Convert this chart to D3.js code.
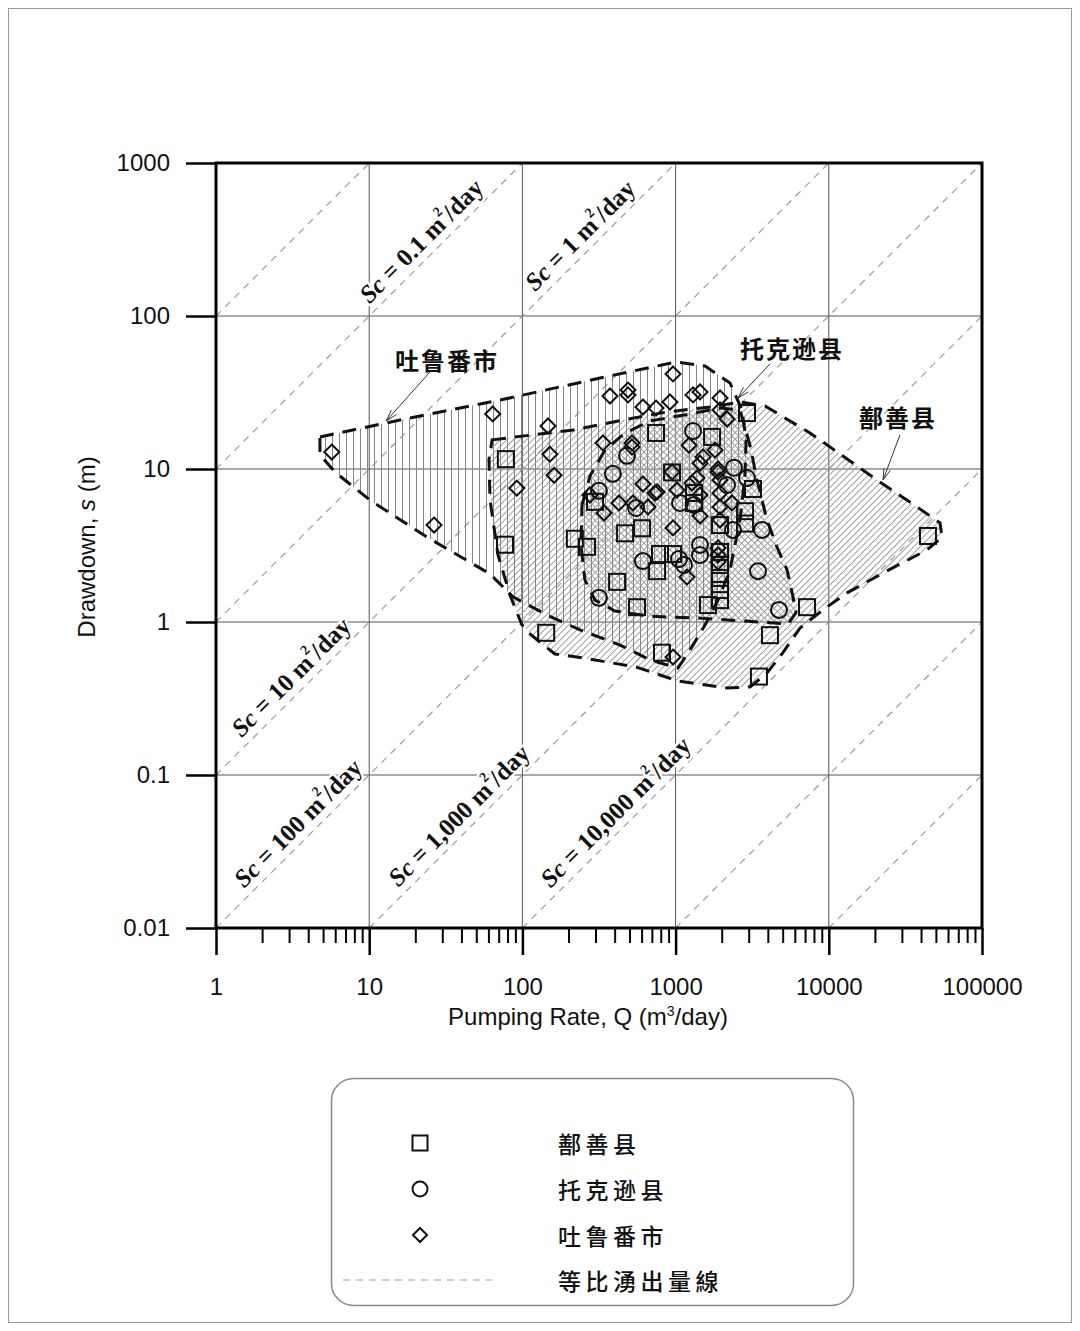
<!DOCTYPE html>
<html>
<head>
<meta charset="utf-8">
<script src="https://cdn.jsdelivr.net/npm/d3@7"></script>
<style>
  html, body { margin: 0; padding: 0; background: #fff; }
  svg { display: block; }
</style>
</head>
<body>
<svg id="chart" width="1080" height="1331"></svg>
<script>
// ---- Well test data: pumping rate Q (m3/day), drawdown s (m) ----
const shanshanWells = [
  [78, 11.6], [77, 3.2], [220, 3.5], [264, 3.1], [298, 6.1], [468, 3.8], [604, 4.1],
  [415, 1.83], [560, 1.25], [143, 0.85], [745, 17.2], [948, 9.5], [1730, 16.2],
  [2925, 23.2], [3200, 7.4], [2840, 5.3], [2840, 4.4], [1950, 4.3], [791, 2.78],
  [962, 2.78], [757, 2.15], [1627, 1.29], [1950, 2.87], [1950, 2.36], [1950, 1.94],
  [1950, 1.62], [1950, 1.39], [815, 0.63], [4130, 0.82], [3500, 0.44], [7210, 1.25],
  [44400, 3.65], [1318, 6.97], [1318, 6.0]
];
const tuokexunWells = [
  [1300, 17.7], [482, 12.2], [390, 9.3], [316, 7.2], [552, 5.56], [1069, 6.0],
  [1318, 5.82], [2405, 10.2], [2925, 8.73], [2167, 7.86], [2370, 4.0], [3664, 4.0],
  [1443, 3.19], [1443, 2.74], [612, 2.5], [1052, 2.58], [1135, 2.36], [3451, 2.15],
  [316, 1.44], [4730, 1.2]
];
const turpanWells = [
  [5.7, 12.9], [26.5, 4.3], [64, 22.9], [147, 19.1], [151, 12.5], [161, 9.1], [92, 7.5],
  [373, 30], [489, 32.8], [489, 30.5], [962, 41.8], [919, 27.4], [612, 25.4], [745, 25.0],
  [1300, 30.5], [1443, 31.9], [1950, 29.1], [1950, 24.3], [2167, 21.2], [336, 14.8],
  [519, 14.8], [519, 13.9], [1223, 14.3], [1510, 12.0], [1808, 13.3], [1892, 10.0],
  [1892, 9.55], [1443, 10.9], [1380, 8.73], [1280, 8.1], [1950, 8.47], [948, 9.55],
  [757, 7.07], [1021, 7.29], [1950, 6.97], [1443, 6.76], [612, 7.98], [734, 6.97],
  [427, 6.0], [341, 5.16], [527, 6.0], [661, 5.65], [962, 4.12], [1187, 1.97],
  [962, 0.59], [1443, 4.93], [1950, 5.65], [1950, 4.64], [2334, 6.0], [1892, 3.05],
  [1892, 2.74], [1892, 2.47], [276, 6.76]
];

// ---- Envelopes of each county's data cloud (Q, s) ----
const turpanEnvelope = [
  [4.77, 16.2], [15.9, 20.9], [71.4, 28.2], [321, 39.3], [1006, 50.1], [1556, 47.1],
  [2265, 36.5], [2712, 24.3], [2884, 15.5], [2838, 9.14], [2633, 4.64], [2265, 2.19],
  [1892, 1.39], [1556, 0.956], [1242, 0.656], [1037, 0.5], [681, 0.565], [434, 0.707],
  [238, 0.887], [145, 1.11], [86.8, 1.46], [61.5, 2.06], [23.8, 3.59], [10.1, 6.27],
  [5.98, 9.55], [4.77, 12.4]
];
const shanshanEnvelope = [
  [63.4, 15.5], [214, 18.0], [454, 20.9], [879, 23.6], [1678, 25.4], [2633, 27.4],
  [3834, 25.8], [7540, 17.2], [20650, 8.47], [37650, 5.65], [53200, 4.44], [54800, 3.59],
  [43750, 2.96], [22600, 2.09], [13150, 1.55], [9160, 1.2], [6490, 0.914], [5020, 0.63],
  [3950, 0.464], [3060, 0.376], [2167, 0.37], [1037, 0.411], [552, 0.508], [249, 0.582],
  [163, 0.618], [114, 0.822], [99.4, 0.956], [83, 1.5], [69.3, 2.74], [61.5, 6.27],
  [60.5, 11.5]
];
const tuokexunEnvelope = [
  [245, 5.82], [276, 9.0], [346, 13.3], [468, 17.2], [681, 20.6], [1242, 22.9],
  [1950, 25.0], [2633, 24.3], [3060, 14.3], [3400, 8.47], [3950, 4.64], [4590, 3.09],
  [5340, 2.19], [5840, 1.46], [6110, 1.15], [5420, 0.97], [2838, 1.015], [1443, 1.06],
  [681, 1.09], [402, 1.18], [298, 1.39], [256, 1.88], [241, 3.19]
];

// ---- Lines of equal specific capacity Sc = Q / s (m2/day) ----
const scLineValues = [0.01, 0.1, 1, 10, 100, 1000, 10000, 100000, 1000000];
const scLabelValues = [0.1, 1, 10, 100, 1000, 10000];
const scLabelTexts = ["0.1", "1", "10", "100", "1,000", "10,000"];
const scLabelAnchorQ = [26, 283, 3.67, 4.08, 45.8, 482];

// ---- Axis ticks ----
const xTicks = [1, 10, 100, 1000, 10000, 100000];
const xTickLabels = ["1", "10", "100", "1000", "10000", "100000"];
const yTicks = [0.01, 0.1, 1, 10, 100, 1000];
const yTickLabels = ["0.01", "0.1", "1", "10", "100", "1000"];

// ---- Series names ----
const seriesNames = ["鄯善县", "托克逊县", "吐鲁番市"];
const scLegendName = "等比湧出量線";

// ---- Region callouts: label position and pointer (Q, s) ----
const calloutNames = ["吐鲁番市", "托克逊县", "鄯善县"];
const calloutLabelAt = [[32.2, 51.6], [5750, 61.8], [28300, 22.2]];
const calloutFrom = [[24.9, 43], [4130, 48.6], [29150, 16.7]];
const calloutTo = [[12.9, 20.6], [2555, 29.1], [22600, 8.47]];

// =====================================================================
const svg = d3.select("#chart");
const latin = "'Liberation Sans', Arial, sans-serif";
const serif = "'Liberation Serif', 'Times New Roman', serif";
const cjk = "'Noto Sans CJK SC', 'Noto Sans CJK TC', sans-serif";

const x = d3.scaleLog().domain([1, 1e5]).range([216, 982]);
const y = d3.scaleLog().domain([0.01, 1000]).range([928, 163]);

// page frame
svg.append("rect").attr("x", 8.5).attr("y", 8.5).attr("width", 1063).attr("height", 1314)
  .attr("fill", "none").attr("stroke", "#9a9a9a").attr("stroke-width", 1);

const defs = svg.append("defs");
defs.append("clipPath").attr("id", "plot-clip").append("rect")
  .attr("x", 216).attr("y", 163).attr("width", 766).attr("height", 765);

function hatch(id, angle, spacing, color, width) {
  const p = defs.append("pattern").attr("id", id)
    .attr("patternUnits", "userSpaceOnUse")
    .attr("width", spacing).attr("height", spacing)
    .attr("patternTransform", `rotate(${angle})`);
  p.append("line").attr("x1", spacing / 2).attr("x2", spacing / 2)
    .attr("y1", 0).attr("y2", spacing)
    .attr("stroke", color).attr("stroke-width", width);
}
hatch("hatch-turpan", 0, 7, "#858585", 1);
hatch("hatch-shanshan", 45, 4.6, "#9c9c9c", 1);
hatch("hatch-tuokexun", -45, 4.6, "#9c9c9c", 1);

const plot = svg.append("g").attr("clip-path", "url(#plot-clip)");

// grid lines at decades
plot.append("g").selectAll("line").data(xTicks.slice(1, -1)).join("line")
  .attr("x1", d => x(d)).attr("x2", d => x(d)).attr("y1", y(1000)).attr("y2", y(0.01))
  .attr("stroke", "#555").attr("stroke-width", 1);
plot.append("g").selectAll("line").data(yTicks.slice(1, -1)).join("line")
  .attr("y1", d => y(d)).attr("y2", d => y(d)).attr("x1", x(1)).attr("x2", x(1e5))
  .attr("stroke", "#555").attr("stroke-width", 1);

// equal specific capacity lines
plot.append("g").selectAll("line").data(scLineValues).join("line")
  .attr("x1", d => x(Math.max(1, 0.01 * d)))
  .attr("y1", d => y(Math.max(1, 0.01 * d) / d))
  .attr("x2", d => x(Math.min(1e5, 1000 * d)))
  .attr("y2", d => y(Math.min(1e5, 1000 * d) / d))
  .attr("stroke", "#9c9c9c").attr("stroke-width", 1.2).attr("stroke-dasharray", "7,6");

// hatched envelopes
const area = d3.line().x(d => x(d[0])).y(d => y(d[1])).curve(d3.curveLinearClosed);
const envelopes = [
  { pts: shanshanEnvelope, fill: "url(#hatch-shanshan)" },
  { pts: turpanEnvelope, fill: "url(#hatch-turpan)" },
  { pts: tuokexunEnvelope, fill: "url(#hatch-tuokexun)" }
];
plot.append("g").selectAll("path").data(envelopes).join("path")
  .attr("d", d => area(d.pts)).attr("fill", d => d.fill);
plot.append("g").selectAll("path").data(envelopes).join("path")
  .attr("d", d => area(d.pts)).attr("fill", "none")
  .attr("stroke", "#111").attr("stroke-width", 3).attr("stroke-dasharray", "14,9");

// Sc labels along their lines
const scLabelG = plot.append("g");
scLabelValues.forEach((sc, i) => {
  const q = scLabelAnchorQ[i];
  const t = scLabelG.append("text")
    .attr("transform", `translate(${x(q)},${y(q / sc)}) rotate(-45)`)
    .attr("y", -17).attr("dominant-baseline", "central")
    .attr("text-anchor", "middle")
    .attr("font-family", serif).attr("font-weight", "bold").attr("font-size", 25)
    .attr("fill", "#111")
    .attr("stroke", "#fff").attr("stroke-width", 5).attr("paint-order", "stroke")
    .attr("stroke-linejoin", "round");
  t.append("tspan").attr("font-style", "italic").text("Sc");
  t.append("tspan").text(` = ${scLabelTexts[i]} m`);
  t.append("tspan").attr("font-size", 14).attr("dy", -9).text("2");
  t.append("tspan").attr("dy", 9).text("/day");
});

// markers
function square(g, px, py, s) {
  g.append("rect").attr("x", px - s / 2).attr("y", py - s / 2).attr("width", s).attr("height", s);
}
function circle(g, px, py, s) {
  g.append("circle").attr("cx", px).attr("cy", py).attr("r", s / 2);
}
function diamond(g, px, py, s) {
  const h = s * 0.5;
  g.append("path").attr("d", `M${px},${py - h}L${px + h},${py}L${px},${py + h}L${px - h},${py}Z`);
}
const marks = plot.append("g").attr("fill", "none").attr("stroke", "#111").attr("stroke-width", 2);
shanshanWells.forEach(d => square(marks, x(d[0]), y(d[1]), 16));
tuokexunWells.forEach(d => circle(marks, x(d[0]), y(d[1]), 16));
turpanWells.forEach(d => diamond(marks, x(d[0]), y(d[1]), 15));

// callouts
const callG = svg.append("g");
calloutNames.forEach((name, i) => {
  const [lq, ls] = calloutLabelAt[i];
  callG.append("text").attr("x", x(lq)).attr("y", y(ls))
    .attr("text-anchor", "middle").attr("dominant-baseline", "central")
    .attr("font-family", cjk).attr("font-weight", "bold").attr("font-size", 24)
    .attr("letter-spacing", 2).attr("fill", "#111").text(name);
  const x1 = x(calloutFrom[i][0]), y1 = y(calloutFrom[i][1]);
  const x2 = x(calloutTo[i][0]), y2 = y(calloutTo[i][1]);
  callG.append("line").attr("x1", x1).attr("y1", y1).attr("x2", x2).attr("y2", y2)
    .attr("stroke", "#333").attr("stroke-width", 1);
  const ang = Math.atan2(y2 - y1, x2 - x1);
  const L = 12, spread = 0.28;
  [ang + Math.PI - spread, ang + Math.PI + spread].forEach(a => {
    callG.append("line").attr("x1", x2).attr("y1", y2)
      .attr("x2", x2 + L * Math.cos(a)).attr("y2", y2 + L * Math.sin(a))
      .attr("stroke", "#333").attr("stroke-width", 1);
  });
});

// plot frame
svg.append("rect").attr("x", 216).attr("y", 163).attr("width", 766).attr("height", 765)
  .attr("fill", "none").attr("stroke", "#000").attr("stroke-width", 3);

// axes
const minorX = [];
xTicks.slice(0, -1).forEach(d => { for (let k = 2; k <= 9; k++) minorX.push(k * d); });

const xAxis = svg.append("g").attr("transform", "translate(0,928)")
  .call(d3.axisBottom(x).tickValues(xTicks).tickSize(27).tickPadding(23)
    .tickFormat((d, i) => xTickLabels[i]));
const xMinor = svg.append("g").attr("transform", "translate(0,928)")
  .call(d3.axisBottom(x).tickValues(minorX).tickSize(15).tickFormat(""));
const yAxis = svg.append("g").attr("transform", "translate(216,0)")
  .call(d3.axisLeft(y).tickValues(yTicks).tickSize(30).tickPadding(16)
    .tickFormat((d, i) => yTickLabels[i]));

[xAxis, xMinor, yAxis].forEach(g => {
  g.select(".domain").remove();
  g.selectAll(".tick line").attr("stroke", "#000").attr("stroke-width", 2.5);
  g.selectAll(".tick text").attr("font-family", latin).attr("font-size", 24).attr("fill", "#111");
});
xMinor.selectAll(".tick line").attr("stroke-width", 2);

// axis titles
const xt = svg.append("text").attr("x", 588).attr("y", 1025).attr("text-anchor", "middle")
  .attr("font-family", latin).attr("font-size", 24).attr("fill", "#111");
xt.append("tspan").text("Pumping Rate, ");
xt.append("tspan").text("Q");
xt.append("tspan").text(" (m");
xt.append("tspan").attr("font-size", 14).attr("dy", -9).text("3");
xt.append("tspan").attr("dy", 9).text("/day)");

const yt = svg.append("text").attr("transform", "translate(95,547) rotate(-90)")
  .attr("text-anchor", "middle").attr("font-family", latin).attr("font-size", 24).attr("fill", "#111");
yt.append("tspan").text("Drawdown, ");
yt.append("tspan").attr("font-style", "italic").text("s");
yt.append("tspan").text(" (m)");

// legend
const leg = svg.append("g");
leg.append("rect").attr("x", 331.5).attr("y", 1078.5).attr("width", 522).attr("height", 227)
  .attr("rx", 22).attr("ry", 22).attr("fill", "#fff").attr("stroke", "#888").attr("stroke-width", 1.5);
const legRows = [1143, 1189, 1235, 1280];
const legSyms = leg.append("g").attr("fill", "none").attr("stroke", "#111").attr("stroke-width", 2);
square(legSyms, 420, legRows[0], 15);
circle(legSyms, 420, legRows[1], 15);
diamond(legSyms, 420, legRows[2], 14);
leg.append("line").attr("x1", 343).attr("x2", 492).attr("y1", legRows[3]).attr("y2", legRows[3])
  .attr("stroke", "#9c9c9c").attr("stroke-width", 1.2).attr("stroke-dasharray", "7,6");
seriesNames.concat([scLegendName]).forEach((name, i) => {
  leg.append("text").attr("x", 558).attr("y", legRows[i]).attr("dominant-baseline", "central")
    .attr("font-family", cjk).attr("font-weight", 500).attr("font-size", 23)
    .attr("letter-spacing", 4.5).attr("fill", "#111").text(name);
});
</script>
</body>
</html>
